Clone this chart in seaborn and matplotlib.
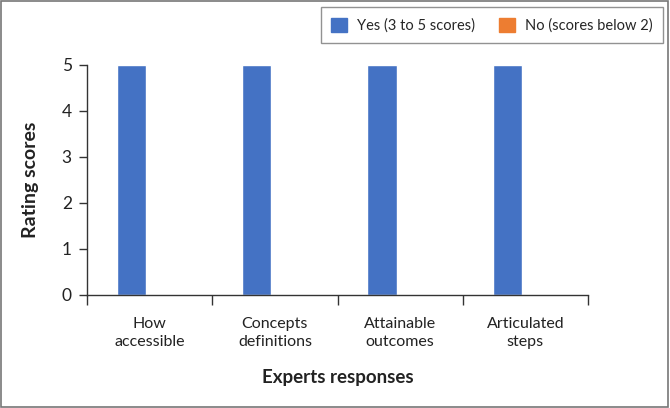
import pandas as pd
import numpy as np
import matplotlib
matplotlib.use('Agg')
import matplotlib.pyplot as plt
import seaborn as sns
from matplotlib.patches import Rectangle

# --- data ---
items = ['How\naccessible', 'Concepts\ndefinitions', 'Attainable\noutcomes', 'Articulated\nsteps']
yes_scores = [5, 5, 5, 5]
no_scores = [0, 0, 0, 0]
series_names = ['Yes (3 to 5 scores)', 'No (scores below 2)']
colors = ['#4472C4', '#ED7D31']

df = pd.DataFrame({
    'item': items * 2,
    'score': yes_scores + no_scores,
    'response': [series_names[0]] * len(items) + [series_names[1]] * len(items),
})

sns.set_style('white')
plt.rcParams['font.family'] = ['Lato', 'DejaVu Sans']

fig = plt.figure(figsize=(6.7, 4.08), dpi=100)
ax = fig.add_axes([0.1299, 0.277, 0.7477, 0.5637])

sns.barplot(data=df, x='item', y='score', hue='response', palette=colors,
            width=0.58, gap=0.2, saturation=1, ax=ax, legend=False)

ax.set_xlim(-0.5, len(items) - 0.5)
ax.set_ylim(0, 5)
ax.set_yticks(range(0, 6))
ax.tick_params(axis='y', left=True, labelsize=12.5, length=6, width=1, direction='out',
               color='#333333', pad=5)
ax.tick_params(axis='x', which='major', bottom=False, labelsize=11.5, pad=12)
ax.set_xticks(np.arange(-0.5, len(items)), minor=True)
ax.tick_params(axis='x', which='minor', bottom=True, length=7, width=1, color='#333333',
               direction='out')
for lab in ax.get_xticklabels():
    lab.set_linespacing(1.45)
for lab in ax.get_xticklabels() + ax.get_yticklabels():
    lab.set_color('#222222')

for s in ['top', 'right']:
    ax.spines[s].set_visible(False)
for s in ['left', 'bottom']:
    ax.spines[s].set_color('#333333')
    ax.spines[s].set_linewidth(1)

ax.set_ylabel('Rating scores', fontsize=14, fontweight='bold', labelpad=16, color='#222222')
ax.set_xlabel('Experts responses', fontsize=13.5, fontweight='bold', labelpad=14, color='#222222')

handles = [Rectangle((0, 0), 1, 1, color=c) for c in colors]
leg = fig.legend(handles, series_names, loc='upper right', bbox_to_anchor=(0.989, 0.982),
                 ncol=2, fontsize=10.5, frameon=True, fancybox=False,
                 handlelength=1.1, handleheight=1.1, handletextpad=0.7,
                 columnspacing=1.6, borderpad=0.7, borderaxespad=0)
leg.get_frame().set_edgecolor('#777777')
leg.get_frame().set_linewidth(1)

# outer border round the whole figure
fig.patches.append(Rectangle((0.002, 0.003), 0.995, 0.994, transform=fig.transFigure,
                             fill=False, edgecolor='#777777', linewidth=1.2))

plt.savefig('out.png', dpi=100)
